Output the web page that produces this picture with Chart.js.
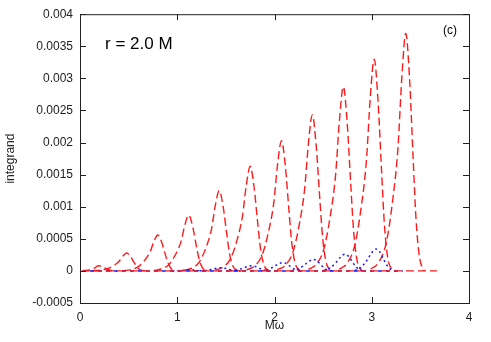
<!DOCTYPE html>
<html>
<head>
<meta charset="utf-8">
<script src="https://cdn.jsdelivr.net/npm/chart.js@4/dist/chart.umd.min.js"></script>
<style>
  html, body { margin: 0; padding: 0; background: #fff; }
  #wrap { width: 491px; height: 342px; }
</style>
</head>
<body>
<div id="wrap"><canvas id="c"></canvas></div>
<script>
// tick labels
const xTicks = [0, 1, 2, 3, 4];
const yTicks = [-0.0005, 0, 0.0005, 0.001, 0.0015, 0.002, 0.0025, 0.003, 0.0035, 0.004];

// red dashed curves, one per peak
const redX = [
  [0.02, 0.11, 0.15, 0.19, 0.23, 0.265, 0.295, 0.33, 0.38],
  [0.12, 0.20, 0.28, 0.34, 0.40, 0.44, 0.48, 0.52, 0.555, 0.585, 0.62, 0.67],
  [0.44, 0.52, 0.60, 0.66, 0.72, 0.76, 0.80, 0.84, 0.875, 0.905, 0.94, 0.99],
  [0.758, 0.838, 0.918, 0.978, 1.038, 1.078, 1.118, 1.158, 1.193, 1.223, 1.258, 1.308],
  [1.072, 1.152, 1.232, 1.292, 1.352, 1.392, 1.432, 1.472, 1.507, 1.537, 1.572, 1.622],
  [1.39, 1.47, 1.55, 1.61, 1.67, 1.71, 1.75, 1.79, 1.825, 1.855, 1.89, 1.94],
  [1.712, 1.792, 1.872, 1.932, 1.992, 2.032, 2.072, 2.112, 2.147, 2.177, 2.212, 2.262],
  [2.029, 2.109, 2.189, 2.249, 2.309, 2.349, 2.389, 2.429, 2.464, 2.494, 2.529, 2.579],
  [2.348, 2.428, 2.508, 2.568, 2.628, 2.668, 2.708, 2.748, 2.783, 2.813, 2.848, 2.898],
  [2.665, 2.745, 2.825, 2.885, 2.945, 2.985, 3.025, 3.065, 3.10, 3.13, 3.165, 3.215],
  [2.99, 3.07, 3.15, 3.21, 3.27, 3.31, 3.35, 3.39, 3.425, 3.455, 3.49, 3.54]
];
const redY = [
  [0, 0.000022, 0.000045, 0.00008, 0.000064, 0.000038, 0.000018, 0.000005, 0],
  [0.000002, 0.00001, 0.000034, 0.000078, 0.000146, 0.00023, 0.00028, 0.000224, 0.000134, 0.000062, 0.000017, 0],
  [0.0000045, 0.00002, 0.000067, 0.000157, 0.000291, 0.000459, 0.00056, 0.000448, 0.000269, 0.000123, 0.000034, 0],
  [0.000007, 0.00003, 0.000104, 0.000244, 0.000452, 0.000713, 0.00087, 0.000696, 0.000418, 0.000191, 0.000052, 0],
  [0.00001, 0.000044, 0.00015, 0.00035, 0.00065, 0.001025, 0.00125, 0.001, 0.0006, 0.000275, 0.000075, 0],
  [0.000013, 0.000057, 0.000196, 0.000456, 0.000848, 0.001337, 0.00163, 0.001304, 0.000782, 0.000359, 0.000098, 0],
  [0.000016, 0.000071, 0.000244, 0.000568, 0.001056, 0.001665, 0.00203, 0.001624, 0.000974, 0.000447, 0.000122, 0],
  [0.000019, 0.000085, 0.000292, 0.00068, 0.001264, 0.001993, 0.00243, 0.001944, 0.001166, 0.000535, 0.000146, 0],
  [0.000023, 0.0001, 0.000344, 0.000804, 0.001492, 0.002353, 0.00287, 0.002296, 0.001378, 0.000631, 0.000172, 0],
  [0.000026, 0.000116, 0.000396, 0.000924, 0.001716, 0.002706, 0.0033, 0.00264, 0.001584, 0.000726, 0.000198, 0],
  [0.00003, 0.00013, 0.000444, 0.001036, 0.001924, 0.003034, 0.0037, 0.00296, 0.001776, 0.000814, 0.000222, 0]
];

// blue dotted curves
const blueX = [
  [0.95, 1.03, 1.08, 1.13, 1.18, 1.23, 1.30],
  [1.23, 1.29, 1.35, 1.40, 1.45, 1.49, 1.53, 1.57, 1.61, 1.65],
  [1.545, 1.605, 1.665, 1.715, 1.765, 1.805, 1.845, 1.885, 1.925, 1.965],
  [1.865, 1.925, 1.985, 2.035, 2.085, 2.125, 2.165, 2.205, 2.245, 2.285],
  [2.18, 2.24, 2.30, 2.35, 2.40, 2.44, 2.48, 2.52, 2.56, 2.60],
  [2.505, 2.565, 2.625, 2.675, 2.725, 2.765, 2.805, 2.845, 2.885, 2.925],
  [2.825, 2.885, 2.945, 2.995, 3.045, 3.085, 3.125, 3.165, 3.205, 3.245]
];
const blueY = [
  [0, 0.000004, 0.000012, 0.00002, 0.000013, 0.000004, 0],
  [0.000001, 0.0000075, 0.0000225, 0.00004, 0.00005, 0.0000425, 0.000025, 0.00001, 0.000002, 0],
  [0.0000016, 0.000012, 0.000036, 0.000064, 0.00008, 0.000068, 0.00004, 0.000016, 0.0000032, 0],
  [0.0000026, 0.0000195, 0.0000585, 0.000104, 0.00013, 0.00011, 0.000065, 0.000026, 0.0000052, 0],
  [0.0000036, 0.000027, 0.000081, 0.000144, 0.00018, 0.000153, 0.00009, 0.000036, 0.0000072, 0],
  [0.0000052, 0.000039, 0.000117, 0.000208, 0.00026, 0.000221, 0.00013, 0.000052, 0.0000104, 0],
  [0.0000068, 0.000051, 0.000153, 0.000272, 0.00034, 0.000289, 0.00017, 0.000068, 0.0000136, 0]
];

// flat parts along zero
const redBaseX = [0.02, 3.67];
const blueBaseX = [0.02, 3.32];
const baseY = [0, 0];

const FONT = "'Liberation Sans', Arial, Helvetica, sans-serif";

const toPoints = (xs, ys) => xs.map((x, i) => ({ x, y: ys[i] }));

const redStyle = {
  borderColor: '#ff1a1a', borderWidth: 1.4, borderDash: [8, 4],
  pointRadius: 0, cubicInterpolationMode: 'monotone', fill: false
};
const blueStyle = {
  borderColor: '#1a1aff', borderWidth: 1.5, borderDash: [2, 3],
  pointRadius: 0, cubicInterpolationMode: 'monotone', fill: false
};

const datasets = [
  { ...redStyle, data: toPoints(redBaseX, baseY) },
  { ...blueStyle, borderDash: [4, 4], data: toPoints(blueBaseX, baseY) },
  ...blueX.map((xs, i) => ({ ...blueStyle, data: toPoints(xs, blueY[i]) })),
  ...redX.map((xs, i) => ({ ...redStyle, data: toPoints(xs, redY[i]) }))
];

// gnuplot-like frame with inward ticks on all sides, plus labels
const frameTicks = {
  id: 'frameTicks',
  afterDatasetsDraw(chart) {
    const { ctx, chartArea: a, scales: { x, y } } = chart;
    ctx.save();
    ctx.strokeStyle = '#222';
    ctx.lineWidth = 1;
    ctx.strokeRect(a.left + 0.5, a.top + 0.5, a.right - a.left, a.bottom - a.top);
    ctx.beginPath();
    xTicks.forEach(v => {
      const px = Math.round(x.getPixelForValue(v)) + 0.5;
      ctx.moveTo(px, a.bottom); ctx.lineTo(px, a.bottom - 6);
      ctx.moveTo(px, a.top); ctx.lineTo(px, a.top + 6);
    });
    yTicks.forEach(v => {
      const py = Math.round(y.getPixelForValue(v)) + 0.5;
      ctx.moveTo(a.left, py); ctx.lineTo(a.left + 6, py);
      ctx.moveTo(a.right, py); ctx.lineTo(a.right - 6, py);
    });
    ctx.stroke();

    ctx.fillStyle = '#000';
    ctx.font = '17px ' + FONT;
    ctx.textAlign = 'left';
    ctx.textBaseline = 'alphabetic';
    ctx.fillText('r = 2.0 M', a.left + 25, a.top + 35);
    ctx.font = '12px ' + FONT;
    ctx.textAlign = 'right';
    ctx.fillText('(c)', a.right - 12, a.top + 20);
    ctx.restore();
  }
};

new Chart(document.getElementById('c'), {
  type: 'line',
  data: { datasets },
  options: {
    responsive: true,
    maintainAspectRatio: false,
    animation: false,
    layout: { padding: { left: 0, right: 22, top: 13, bottom: 0 } },
    plugins: { legend: { display: false }, tooltip: { enabled: false } },
    scales: {
      x: {
        type: 'linear', min: 0, max: 4,
        grid: { display: false, drawTicks: false },
        border: { display: false },
        afterFit(s) { s.height = 39; },
        afterBuildTicks(s) { s.ticks = xTicks.map(v => ({ value: v })); },
        ticks: { padding: 7, color: '#222', font: { family: FONT, size: 12 }, maxRotation: 0,
          callback: v => String(v) },
        title: { display: true, text: 'Mω', color: '#222', font: { family: FONT, size: 12 },
          padding: { top: 0, bottom: 9 } }
      },
      y: {
        type: 'linear', min: -0.0005, max: 0.004,
        grid: { display: false, drawTicks: false },
        border: { display: false },
        afterFit(s) { s.width = 80; },
        afterBuildTicks(s) { s.ticks = yTicks.map(v => ({ value: v })); },
        ticks: { padding: 7, color: '#222', font: { family: FONT, size: 12 },
          callback: v => String(+v.toFixed(4)) },
        title: { display: true, text: 'integrand', color: '#222', font: { family: FONT, size: 12 },
          padding: { top: 3, bottom: 0 } }
      }
    }
  },
  plugins: [frameTicks]
});
</script>
</body>
</html>
